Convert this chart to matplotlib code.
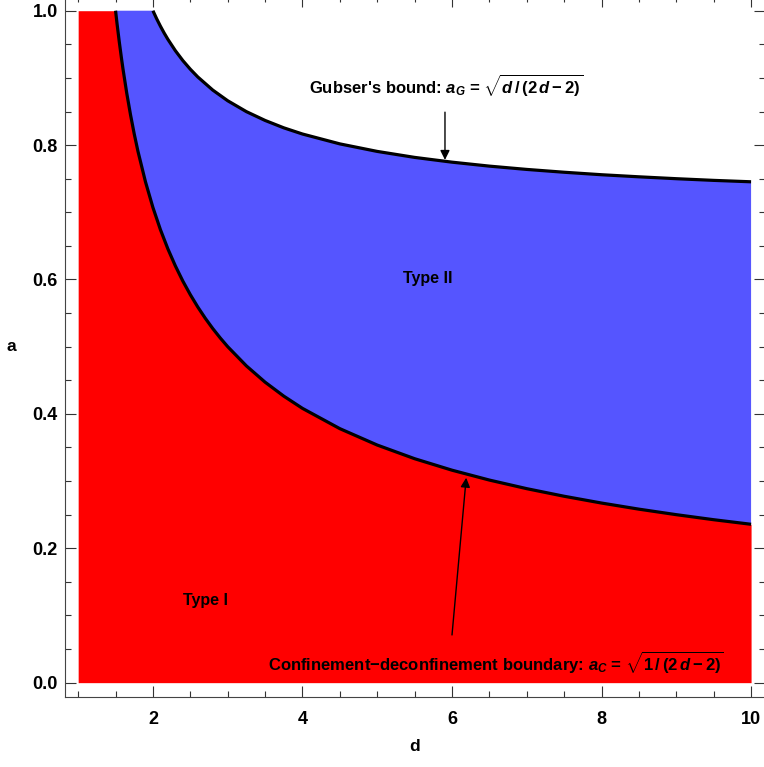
import matplotlib
matplotlib.use("Agg")
import matplotlib.pyplot as plt
from matplotlib.ticker import MultipleLocator
import numpy as np

plt.rcParams.update({
    'font.family': 'Liberation Sans',
    'font.weight': 'bold',
    'mathtext.fontset': 'custom',
    'mathtext.rm': 'Liberation Sans:bold',
    'mathtext.it': 'Liberation Sans:bold:italic',
    'mathtext.bf': 'Liberation Sans:bold',
})

# confinement-deconfinement boundary a_C(d)
d_c = [1.5, 1.52, 1.55, 1.58, 1.6, 1.65, 1.7, 1.75, 1.8, 1.9, 2.0, 2.1, 2.2, 2.3,
       2.4, 2.5, 2.6, 2.7, 2.8, 2.9, 3.0, 3.25, 3.5, 3.75, 4.0, 4.5, 5.0, 5.5,
       6.0, 6.5, 7.0, 7.5, 8.0, 8.5, 9.0, 9.5, 10.0]
a_c = [1.0, 0.9806, 0.9535, 0.9285, 0.9129, 0.8771, 0.8452, 0.8165, 0.7906, 0.7454,
       0.7071, 0.6742, 0.6455, 0.6202, 0.5976, 0.5774, 0.5590, 0.5423, 0.5270,
       0.5130, 0.5, 0.4714, 0.4472, 0.4264, 0.4082, 0.3780, 0.3536, 0.3333,
       0.3162, 0.3015, 0.2887, 0.2774, 0.2673, 0.2582, 0.25, 0.2425, 0.2357]

# Gubser's bound a_G(d), upper curve
d_g = [2.0, 2.05, 2.1, 2.15, 2.2, 2.3, 2.4, 2.5, 2.6, 2.8, 3.0, 3.25, 3.5, 3.75,
       4.0, 4.5, 5.0, 5.5, 6.0, 6.5, 7.0, 7.5, 8.0, 8.5, 9.0, 9.5, 10.0]
a_g = [1.0, 0.9880, 0.9770, 0.9668, 0.9574, 0.9405, 0.9258, 0.9129, 0.9014, 0.8819,
       0.8660, 0.8498, 0.8367, 0.8257, 0.8165, 0.8018, 0.7906, 0.7817, 0.7746,
       0.7687, 0.7638, 0.7596, 0.7559, 0.7528, 0.75, 0.7475, 0.7454]

d_min, a_max = 1.0, 1.0

fig = plt.figure(figsize=(7.64, 7.67), dpi=100)
ax = fig.add_axes([0.0847, 0.0913, 0.9160, 0.9134])

# Type I region (below a_C)
ax.fill_between([d_min] + d_c, 0, [a_max] + a_c, color='#ff0000', lw=0, zorder=1)

# Type II region (between a_C and a_G)
poly_x = [d_c[0]] + d_g + d_c[::-1]
poly_y = [a_max] + a_g + a_c[::-1]
ax.fill(poly_x, poly_y, color='#5555ff', lw=0, zorder=1)

ax.plot(d_c, a_c, color='black', lw=2.3, zorder=3, solid_capstyle='butt')
ax.plot(d_g, a_g, color='black', lw=2.3, zorder=3, solid_capstyle='butt')

ax.text(2.70, 0.123, 'Type I', fontsize=11.5, ha='center', va='center', zorder=4)
ax.text(5.68, 0.601, 'Type II', fontsize=11.5, ha='center', va='center', zorder=4)

ax.text(5.92, 0.888, r"Gubser's bound: $a_G$ = $\sqrt{d\,/\,(2\,d - 2)}$",
        fontsize=12, ha='center', va='center', zorder=4)
ax.annotate('', xy=(5.906, 0.778), xytext=(5.906, 0.849),
            arrowprops=dict(arrowstyle='-|>', color='black', lw=1.0,
                            mutation_scale=14, shrinkA=0, shrinkB=0), zorder=4)

ax.text(6.59, 0.030,
        r"Confinement$-$deconfinement boundary: $a_C$ = $\sqrt{1\,/\,(2\,d - 2)}$",
        fontsize=12, ha='center', va='center', zorder=4)
ax.annotate('', xy=(6.19, 0.305), xytext=(6.0, 0.071),
            arrowprops=dict(arrowstyle='-|>', color='black', lw=1.0,
                            mutation_scale=14, shrinkA=0, shrinkB=0), zorder=4)

ax.set_xlim(0.82, 10.18)
ax.set_ylim(-0.0213, 1.0213)

ax.xaxis.set_major_locator(MultipleLocator(2))
ax.xaxis.set_minor_locator(MultipleLocator(0.5))
ax.yaxis.set_major_locator(MultipleLocator(0.2))
ax.yaxis.set_minor_locator(MultipleLocator(0.05))
ax.yaxis.set_major_formatter(matplotlib.ticker.FormatStrFormatter('%.1f'))

ax.tick_params(which='both', direction='in', top=True, right=True,
               labelsize=13, width=0.8, color='#333333')
ax.tick_params(which='major', length=8)
ax.tick_params(which='minor', length=4.5)
ax.tick_params(axis='x', which='major', pad=10)
ax.tick_params(axis='y', which='major', pad=5)
for sp in ax.spines.values():
    sp.set_linewidth(0.8)
    sp.set_color('#444444')

ax.set_xlabel('d', fontsize=12.5, fontweight='bold', labelpad=8)
ax.set_ylabel('a', fontsize=12.5, fontweight='bold', rotation=0, labelpad=15, va='center')

fig.savefig('out.png', dpi=100)
